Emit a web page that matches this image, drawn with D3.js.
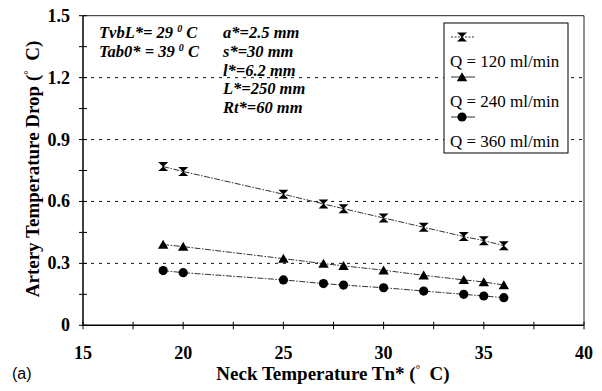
<!DOCTYPE html>
<html>
<head>
<meta charset="utf-8">
<script src="https://cdn.jsdelivr.net/npm/d3@7"></script>
<style>
  body { margin: 0; background: #fff; }
  .serif { font-family: "Liberation Serif", serif; }
  .sans { font-family: "Liberation Sans", sans-serif; }
</style>
</head>
<body>
<script>
// data
var neckTemp = [19, 20, 25, 27, 28, 30, 32, 34, 35, 36];
var dropQ120 = [0.769, 0.745, 0.635, 0.588, 0.565, 0.520, 0.475, 0.430, 0.410, 0.386];
var dropQ240 = [0.391, 0.381, 0.323, 0.299, 0.288, 0.267, 0.242, 0.220, 0.210, 0.195];
var dropQ360 = [0.265, 0.255, 0.220, 0.202, 0.195, 0.182, 0.166, 0.150, 0.142, 0.134];
var seriesNames = ["Q = 120 ml/min", "Q = 240 ml/min", "Q = 360 ml/min"];
var xTicks = [15, 20, 25, 30, 35, 40];
var yTicks = [0, 0.3, 0.6, 0.9, 1.2, 1.5];
var params = ["a*=2.5 mm", "s*=30 mm", "l*=6.2 mm", "L*=250 mm", "Rt*=60 mm"];

var width = 602, height = 391;
var x = d3.scaleLinear().domain([15, 40]).range([83, 584]);
var y = d3.scaleLinear().domain([0, 1.5]).range([325.3, 15.7]);

var svg = d3.select("body").append("svg")
	.attr("class", "serif")
	.attr("width", width)
	.attr("height", height);

// marker shapes
var markers = [
	"M-5,-4.5L5,-4.5L0.8,-0.6L0.8,0.6L5,4.5L-5,4.5L-0.8,0.6L-0.8,-0.6Z",
	"M0,-4.8L5.2,4.2L-5.2,4.2Z",
	null
];

// gridlines
svg.append("g").selectAll("line")
	.data(yTicks.filter(d => d > 0 && d < 1.5))
	.enter().append("line")
	.attr("x1", x(15)).attr("x2", x(40))
	.attr("y1", d => y(d)).attr("y2", d => y(d))
	.attr("stroke", "#111")
	.attr("stroke-width", 1)
	.attr("stroke-dasharray", "3,5");

// frame
svg.append("line").attr("x1", x(15)).attr("x2", x(40)).attr("y1", y(1.5)).attr("y2", y(1.5))
	.attr("stroke", "#222").attr("stroke-width", 1);
svg.append("line").attr("x1", x(40)).attr("x2", x(40)).attr("y1", y(1.5)).attr("y2", y(0))
	.attr("stroke", "#222").attr("stroke-width", 1);
svg.append("line").attr("x1", x(15)).attr("x2", x(40)).attr("y1", y(0)).attr("y2", y(0))
	.attr("stroke", "#000").attr("stroke-width", 1.5);
svg.append("line").attr("x1", x(15)).attr("x2", x(15)).attr("y1", y(1.5)).attr("y2", y(0))
	.attr("stroke", "#000").attr("stroke-width", 1.5);

// ticks crossing the axes
svg.append("g").selectAll("line")
	.data(d3.range(0, 1.5001, 0.15))
	.enter().append("line")
	.attr("x1", x(15) - 4).attr("x2", x(15) + 4)
	.attr("y1", d => y(d)).attr("y2", d => y(d))
	.attr("stroke", "#000").attr("stroke-width", 1);
svg.append("g").selectAll("line")
	.data(d3.range(15, 40.01, 2.5))
	.enter().append("line")
	.attr("x1", d => x(d)).attr("x2", d => x(d))
	.attr("y1", y(0) - 3.5).attr("y2", y(0) + 4)
	.attr("stroke", "#000").attr("stroke-width", 1);

// tick labels
svg.append("g").selectAll("text")
	.data(yTicks)
	.enter().append("text")
	.attr("x", 70)
	.attr("y", d => y(d) + 6)
	.attr("text-anchor", "end")
	.attr("font-size", "18px")
	.attr("font-weight", "bold")
	.text(d => d === 0 ? "0" : d3.format(".1f")(d));
svg.append("g").selectAll("text")
	.data(xTicks)
	.enter().append("text")
	.attr("x", d => x(d))
	.attr("y", 359)
	.attr("text-anchor", "middle")
	.attr("font-size", "18px")
	.attr("font-weight", "bold")
	.text(d => d);

// axis titles
var xt = svg.append("text")
	.attr("x", 333).attr("y", 380)
	.attr("text-anchor", "middle")
	.attr("font-size", "19px")
	.attr("font-weight", "bold");
xt.append("tspan").text("Neck Temperature Tn* (");
xt.append("tspan").attr("font-size", "11px").attr("dy", -7).text("°");
xt.append("tspan").attr("dy", 7).text("\u00a0\u00a0C)");

var yt = svg.append("text")
	.attr("transform", "translate(39,169) rotate(-90)")
	.attr("text-anchor", "middle")
	.attr("font-size", "19px")
	.attr("font-weight", "bold");
yt.append("tspan").text("Artery Temperature Drop (");
yt.append("tspan").attr("font-size", "11px").attr("dy", -7).text("°");
yt.append("tspan").attr("dy", 7).text("\u00a0\u00a0C)");

svg.append("text")
	.attr("class", "sans")
	.attr("x", 12).attr("y", 379)
	.attr("font-size", "16px")
	.text("(a)");

// annotations
var ann = [["TvbL*= 29 ", " C"], ["Tab0* = 39 ", " C"]];
ann.forEach((a, i) => {
	var t = svg.append("text")
		.attr("x", 99).attr("y", 38 + i * 19)
		.attr("font-size", "16.5px")
		.attr("font-weight", "bold")
		.attr("font-style", "italic");
	t.append("tspan").text(a[0]);
	t.append("tspan").attr("font-size", "10px").attr("dy", -6).text("0");
	t.append("tspan").attr("dy", 6).text(a[1]);
});
svg.append("g").selectAll("text")
	.data(params)
	.enter().append("text")
	.attr("x", 223)
	.attr("y", (d, i) => 38 + i * 18.8)
	.attr("font-size", "16.5px")
	.attr("font-weight", "bold")
	.attr("font-style", "italic")
	.text(d => d);

// series
var series = [dropQ120, dropQ240, dropQ360];
var line = d3.line().x((d, i) => x(neckTemp[i])).y(d => y(d));

function drawMarker(g, k, cx, cy) {
	if (markers[k]) {
		g.append("path")
			.attr("d", markers[k])
			.attr("transform", "translate(" + cx + "," + cy + ")")
			.attr("fill", "#000");
	} else {
		g.append("circle")
			.attr("cx", cx).attr("cy", cy).attr("r", 4.6)
			.attr("fill", "#000");
	}
}

series.forEach((vals, k) => {
	svg.append("path")
		.datum(vals)
		.attr("d", line)
		.attr("fill", "none")
		.attr("stroke", "#333")
		.attr("stroke-width", 1)
		.attr("stroke-dasharray", "6,1.5,1.5,1.5");
	var g = svg.append("g");
	vals.forEach((v, i) => drawMarker(g, k, x(neckTemp[i]), y(v)));
});

// legend
var legend = svg.append("g");
legend.append("rect")
	.attr("x", 444).attr("y", 23)
	.attr("width", 124).attr("height", 130)
	.attr("fill", "#fff")
	.attr("stroke", "#000")
	.attr("stroke-width", 1);
seriesNames.forEach((name, k) => {
	var yy = 37 + k * 40;
	legend.append("line")
		.attr("x1", 451).attr("x2", 475)
		.attr("y1", yy).attr("y2", yy)
		.attr("stroke", "#333")
		.attr("stroke-width", 1)
		.attr("stroke-dasharray", k === 0 ? "2,1.5" : null);
	drawMarker(legend, k, 462, yy);
	legend.append("text")
		.attr("x", 450)
		.attr("y", yy + 30)
		.attr("font-size", "17px")
		.text(name);
});
</script>
</body>
</html>
